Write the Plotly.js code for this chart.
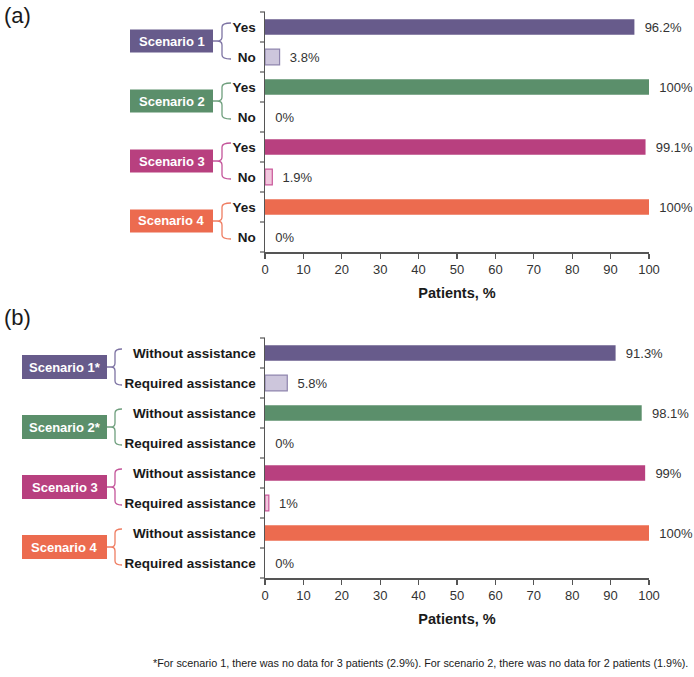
<!DOCTYPE html>
<html>
<head>
<meta charset="utf-8">
<script src="https://cdn.plot.ly/plotly-3.0.1.min.js"></script>
<style>
  html, body { margin: 0; padding: 0; background: #fff; }
  #chart { width: 694px; height: 677px; }
</style>
</head>
<body>
<div id="chart"></div>
<script>
// ---------------- data ----------------
const scenariosA = ["Scenario 1", "Scenario 2", "Scenario 3", "Scenario 4"];
const scenariosB = ["Scenario 1*", "Scenario 2*", "Scenario 3", "Scenario 4"];
const answersA = ["Yes", "No"];
const answersB = ["Without assistance", "Required assistance"];
const yesA = [96.2, 100, 99.1, 100];
const noA = [3.8, 0, 1.9, 0];
const withoutB = [91.3, 98.1, 99, 100];
const requiredB = [5.8, 0, 1, 0];
const xTicks = [0, 10, 20, 30, 40, 50, 60, 70, 80, 90, 100];
const xTitle = "Patients, %";
const footnote = "*For scenario 1, there was no data for 3 patients (2.9%). For scenario 2, there was no data for 2 patients (1.9%).";

// ---------------- styles ----------------
const darkColors = ["#675b8b", "#5b8f6b", "#b8407f", "#ec6b4f"];
const lightColors = ["#cdc6dc", "#c4dccb", "#f1c7dd", "#f8cfc3"];
const lightBorders = ["#8e84ad", "#7fae8c", "#c9579a", "#ef8a70"];
const braceColors = ["#7d73a3", "#6f9f7d", "#c4559a", "#ef7d62"];
const FONT = "Arial, 'Liberation Sans', Helvetica, sans-serif";

const W = 694, H = 677;
const M = { l: 265, r: 45, t: 12, b: 99 };
const plotW = W - M.l - M.r, plotH = H - M.t - M.b;
const panelA = { top: 12, bottom: 252 };
const panelB = { top: 338, bottom: 578 };

function px(x) { return (x - M.l) / plotW; }
function py(y) { return (H - M.b - y) / plotH; }

function buildPanel(prefix, scen, answers, v1, v2) {
  const cats = [], labels = [], vals = [], fills = [], lines = [], lw = [];
  scen.forEach((s, i) => {
    [v1[i], v2[i]].forEach((v, j) => {
      cats.push(prefix + i + "_" + j);
      labels.push(answers[j]);
      vals.push(v);
      fills.push(j === 0 ? darkColors[i] : lightColors[i]);
      lines.push(j === 0 ? darkColors[i] : lightBorders[i]);
      lw.push(j === 0 || v === 0 ? 0 : 1.2);
    });
  });
  return { cats, labels, vals, fills, lines, lw };
}

const pa = buildPanel("a", scenariosA, answersA, yesA, noA);
const pb = buildPanel("b", scenariosB, answersB, withoutB, requiredB);

function barTrace(p, xa, ya) {
  return {
    type: "bar", orientation: "h",
    x: p.vals, y: p.cats,
    xaxis: xa, yaxis: ya,
    width: 0.52,
    marker: { color: p.fills, line: { color: p.lines, width: p.lw } },
    text: p.vals.map(v => v + "%"),
    texttemplate: "  %{text}",
    textposition: "outside",
    cliponaxis: false,
    textfont: { family: FONT, size: 13, color: "#333" },
    hoverinfo: "skip",
    showlegend: false
  };
}

const yBase = {
  type: "category",
  autorange: "reversed",
  ticks: "",
  ticklabelstandoff: 5,
  showline: true, linecolor: "#555", linewidth: 1.5,
  showgrid: false, zeroline: false,
  tickfont: { family: FONT, size: 13.5, color: "#1a1a1a", weight: "bold" },
  tickmode: "array"
};
const xBase = {
  range: [0, 100], tickvals: xTicks,
  ticks: "outside", ticklen: 5, tickcolor: "#555", tickwidth: 1.2,
  showline: true, linecolor: "#555", linewidth: 1.5,
  showgrid: false, zeroline: false,
  tickfont: { family: FONT, size: 13, color: "#333" },
  title: { text: xTitle, font: { family: FONT, size: 14.5, color: "#1a1a1a", weight: "bold" }, standoff: 12 },
  fixedrange: true
};

const shapes = [], annotations = [];

function decorate(panel, scen, box, brace) {
  const catH = (panel.bottom - panel.top) / 8;
  for (let k = 0; k <= 8; k++) {
    const yy = panel.top + catH * k;
    shapes.push({
      type: "line", xref: "paper", yref: "paper",
      x0: px(M.l - 5), x1: px(M.l), y0: py(yy), y1: py(yy),
      line: { color: "#555", width: 1.2 }
    });
  }
  scen.forEach((s, i) => {
    const cTop = panel.top + catH * (2 * i + 0.5);
    const cBot = panel.top + catH * (2 * i + 1.5);
    const mid = (cTop + cBot) / 2;
    const yT = cTop - 4, yB = cBot + 2;
    shapes.push({
      type: "rect", xref: "paper", yref: "paper",
      x0: px(box.x0), x1: px(box.x1), y0: py(mid - box.h / 2 - 1), y1: py(mid + box.h / 2 - 1),
      fillcolor: darkColors[i], line: { width: 0 }
    });
    annotations.push({
      xref: "paper", yref: "paper", x: px((box.x0 + box.x1) / 2), y: py(mid - 1),
      text: s, showarrow: false, xanchor: "center", yanchor: "middle",
      font: { family: FONT, size: 13, color: "#fff", weight: "bold" }
    });
    const r = 4;
    const X = v => px(v).toFixed(5), Y = v => py(v).toFixed(5);
    const path =
      `M${X(box.x1)},${Y(mid - 1)} L${X(brace.tip)},${Y(mid - 1)} ` +
      `M${X(brace.hook)},${Y(yT)} Q${X(brace.v)},${Y(yT)} ${X(brace.v)},${Y(yT + r)} ` +
      `L${X(brace.v)},${Y(mid - 1 - r)} Q${X(brace.v)},${Y(mid - 1)} ${X(brace.tip)},${Y(mid - 1)} ` +
      `Q${X(brace.v)},${Y(mid - 1)} ${X(brace.v)},${Y(mid - 1 + r)} ` +
      `L${X(brace.v)},${Y(yB - r)} Q${X(brace.v)},${Y(yB)} ${X(brace.hook)},${Y(yB)}`;
    shapes.push({
      type: "path", xref: "paper", yref: "paper", path: path,
      line: { color: braceColors[i], width: 1.3 }
    });
  });
}

decorate(panelA, scenariosA, { x0: 130, x1: 213, h: 23 }, { tip: 217, v: 222, hook: 231 });
decorate(panelB, scenariosB, { x0: 22, x1: 107, h: 24 }, { tip: 111, v: 115, hook: 122 });

annotations.push({
  xref: "paper", yref: "paper", x: px(2), y: py(15), xanchor: "left", yanchor: "middle",
  text: "(a)", showarrow: false, font: { family: FONT, size: 22, color: "#1a1a1a" }
});
annotations.push({
  xref: "paper", yref: "paper", x: px(2), y: py(317), xanchor: "left", yanchor: "middle",
  text: "(b)", showarrow: false, font: { family: FONT, size: 22, color: "#1a1a1a" }
});
annotations.push({
  xref: "paper", yref: "paper", x: px(690), y: py(663), xanchor: "right", yanchor: "middle",
  text: footnote, showarrow: false, font: { family: FONT, size: 10.8, color: "#1a1a1a" }
});

const layout = {
  width: W, height: H,
  margin: M,
  paper_bgcolor: "#fff", plot_bgcolor: "#fff",
  font: { family: FONT },
  xaxis: Object.assign({}, xBase, { anchor: "y", domain: [0, 1] }),
  yaxis: Object.assign({}, yBase, {
    anchor: "x", domain: [py(panelA.bottom), py(panelA.top)],
    tickvals: pa.cats, ticktext: pa.labels
  }),
  xaxis2: Object.assign({}, xBase, { anchor: "y2", domain: [0, 1] }),
  yaxis2: Object.assign({}, yBase, {
    anchor: "x2", domain: [py(panelB.bottom), py(panelB.top)],
    tickvals: pb.cats, ticktext: pb.labels
  }),
  shapes: shapes,
  annotations: annotations
};

Plotly.newPlot("chart", [barTrace(pa, "x", "y"), barTrace(pb, "x2", "y2")], layout,
  { staticPlot: true, displayModeBar: false });
</script>
</body>
</html>
